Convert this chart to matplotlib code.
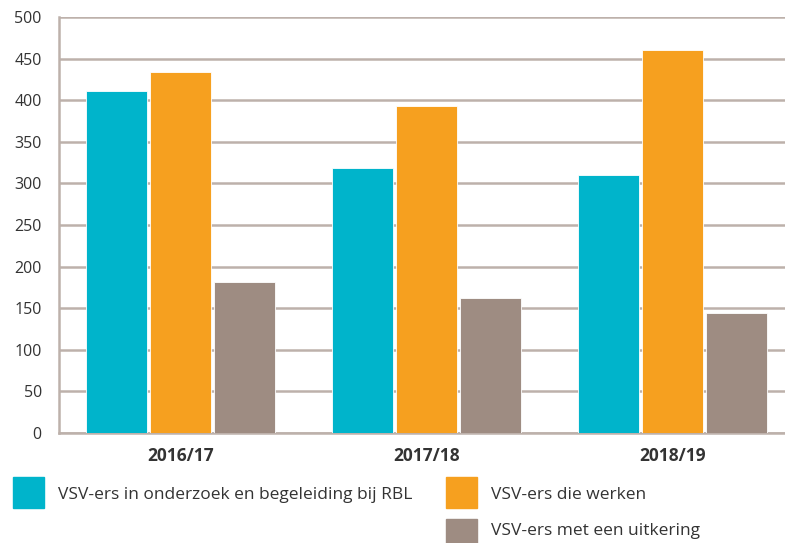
import matplotlib
matplotlib.use("Agg")
import matplotlib.pyplot as plt
from matplotlib.patches import Rectangle
import numpy as np

plt.rcParams['font.family'] = ['Open Sans', 'DejaVu Sans']

# data
years = ['2016/17', '2017/18', '2018/19']
rbl = [411, 318, 310]        # VSV-ers in onderzoek en begeleiding bij RBL
werken = [434, 393, 460]     # VSV-ers die werken
uitkering = [181, 162, 144]  # VSV-ers met een uitkering
labels = ['VSV-ers in onderzoek en begeleiding bij RBL',
          'VSV-ers die werken',
          'VSV-ers met een uitkering']
colors = ['#00B4CB', '#F6A01F', '#9E8C82']
grid_col = '#BDB1AB'
txt_col = '#333333'

fig = plt.figure(figsize=(7.85, 5.43), dpi=100)
ax = fig.add_axes([58.5 / 785, 110 / 543, 726.5 / 785, 416 / 543])

x = np.arange(len(years))
w = 0.248
step = 0.26
for i, vals in enumerate([rbl, werken, uitkering]):
    ax.bar(x + (i - 1) * step, vals, width=w, color=colors[i],
           edgecolor='white', linewidth=0.6, zorder=3)

ax.set_ylim(0, 500)
ax.set_xlim(-0.494, 2.457)
ax.set_yticks(range(0, 501, 50))
ax.yaxis.grid(True, color=grid_col, linewidth=1.8, zorder=0)
ax.set_axisbelow(True)
ax.tick_params(axis='y', length=0, pad=12, labelsize=11.5, labelcolor=txt_col)
ax.tick_params(axis='x', length=0, pad=10, labelsize=12.5, labelcolor=txt_col)
ax.set_xticks(x)
ax.set_xticklabels(years, fontweight='bold')
for s in ['top', 'right']:
    ax.spines[s].set_visible(False)
for s in ['left', 'bottom']:
    ax.spines[s].set_color(grid_col)
    ax.spines[s].set_linewidth(1.8)

# legend drawn by hand (last row sits at the bottom edge, as in the source)
W, H = 785, 543
legend_items = [(13, 477, 495, labels[0], colors[0]),
                (446, 477, 495, labels[1], colors[1]),
                (446, 519, 531, labels[2], colors[2])]
for px, py, ty, txt, col in legend_items:
    fig.patches.append(Rectangle((px / W, 1 - (py + 31) / H), 31 / W, 31 / H,
                                 transform=fig.transFigure, color=col))
    fig.text((px + 45) / W, 1 - ty / H, txt, fontsize=12.5,
             color=txt_col, va='center', ha='left')

fig.savefig('out.png', dpi=100)
